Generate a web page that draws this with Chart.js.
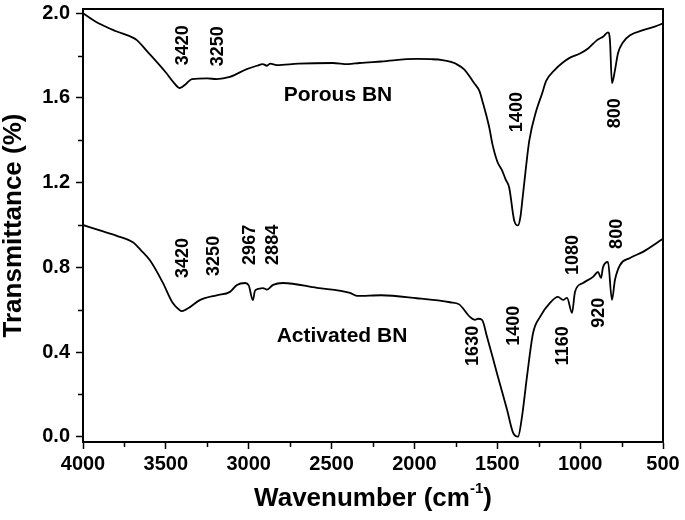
<!DOCTYPE html>
<html>
<head>
<meta charset="utf-8">
<script src="https://cdn.jsdelivr.net/npm/chart.js@4/dist/chart.umd.min.js"></script>
<style>
  html, body { margin: 0; padding: 0; background: #fff; }
  #wrap { width: 685px; height: 520px; }
</style>
</head>
<body>
<div id="wrap"><canvas id="ftir"></canvas></div>
<script>
// wavenumber (cm-1) / transmittance
const porousWn = [4000, 3900, 3800, 3700, 3675, 3614, 3500, 3450, 3416, 3380, 3343, 3250, 3193, 3114, 3012, 2950, 2916, 2890, 2870, 2831, 2700, 2494, 2400, 2331, 2200, 1988, 1900, 1831, 1780, 1747, 1700, 1669, 1640, 1608, 1590, 1548, 1530, 1500, 1470, 1450, 1428, 1398, 1375, 1360, 1349, 1330, 1307, 1265, 1230, 1205, 1150, 1108, 1066, 1001, 950, 898, 860, 832, 820, 808, 790, 772, 741, 699, 621, 550, 500];
const porousT = [2.00, 1.950, 1.915, 1.885, 1.873, 1.821, 1.72, 1.67, 1.647, 1.665, 1.689, 1.692, 1.689, 1.699, 1.736, 1.752, 1.760, 1.752, 1.762, 1.755, 1.762, 1.765, 1.760, 1.765, 1.772, 1.784, 1.783, 1.779, 1.770, 1.760, 1.735, 1.704, 1.67, 1.633, 1.586, 1.459, 1.384, 1.30, 1.256, 1.215, 1.176, 1.021, 0.998, 1.04, 1.115, 1.25, 1.398, 1.539, 1.62, 1.680, 1.735, 1.765, 1.788, 1.81, 1.835, 1.873, 1.89, 1.91, 1.87, 1.67, 1.73, 1.81, 1.863, 1.896, 1.92, 1.937, 1.952];

const activatedWn = [4000, 3898, 3800, 3699, 3650, 3596, 3520, 3458, 3420, 3404, 3380, 3355, 3295, 3193, 3113, 3071, 3022, 3000, 2975, 2962, 2944, 2914, 2890, 2853, 2793, 2588, 2389, 2347, 2200, 1985, 1785, 1730, 1665, 1634, 1616, 1592, 1562, 1502, 1441, 1405, 1375, 1351, 1321, 1284, 1242, 1182, 1134, 1103, 1079, 1049, 1031, 983, 922, 892, 874, 862, 832, 808, 790, 759, 699, 621, 500];
const activatedT = [1.00, 0.974, 0.95, 0.918, 0.88, 0.833, 0.73, 0.631, 0.60, 0.593, 0.60, 0.612, 0.645, 0.668, 0.684, 0.717, 0.726, 0.715, 0.645, 0.69, 0.698, 0.702, 0.695, 0.717, 0.726, 0.703, 0.679, 0.665, 0.668, 0.654, 0.635, 0.625, 0.566, 0.552, 0.557, 0.552, 0.472, 0.30, 0.127, 0.019, 0.0, 0.094, 0.283, 0.49, 0.566, 0.632, 0.66, 0.646, 0.656, 0.585, 0.684, 0.726, 0.755, 0.778, 0.75, 0.80, 0.825, 0.646, 0.74, 0.811, 0.844, 0.873, 0.935];

const xTickValues = [4000, 3750, 3500, 3250, 3000, 2750, 2500, 2250, 2000, 1750, 1500, 1250, 1000, 750, 500];
const yTickValues = [0, 0.2, 0.4, 0.6, 0.8, 1.0, 1.2, 1.4, 1.6, 1.8, 2.0];

// peak labels: [text, wavenumber, transmittance at label centre]
const peakLabels = [
  ["3420", 3403, 1.849], ["3250", 3191, 1.844], ["1400", 1387, 1.533], ["800", 796, 1.528],
  ["3420", 3403, 0.844], ["3250", 3216, 0.854], ["2967", 2998, 0.906], ["2884", 2859, 0.906],
  ["1630", 1653, 0.429], ["1400", 1405, 0.524], ["1160", 1109, 0.429], ["1080", 1049, 0.858],
  ["920", 892, 0.585], ["800", 784, 0.958]
];
const sampleNames = [["Porous BN", 2461, 1.613], ["Activated BN", 2437, 0.476]];

const FONT = "'Liberation Sans', Arial, Helvetica, sans-serif";

const toPoints = (xs, ys) => xs.map((x, i) => ({ x: x, y: ys[i] }));
const isMajorX = (v) => v % 500 === 0;
const isMajorY = (v) => Math.round(v * 10) % 4 === 0;

const decor = {
  id: "decor",
  afterDatasetsDraw(chart) {
    const { ctx, chartArea: a, scales } = chart;
    ctx.save();
    ctx.strokeStyle = "#000";
    // frame top/right
    ctx.lineWidth = 2;
    ctx.beginPath();
    ctx.moveTo(a.left, a.top);
    ctx.lineTo(a.right, a.top);
    ctx.lineTo(a.right, a.bottom);
    ctx.stroke();

    // short minor ticks
    ctx.lineWidth = 1.5;
    ctx.beginPath();
    xTickValues.filter((v) => !isMajorX(v)).forEach((v) => {
      const px = Math.round(scales.x.getPixelForValue(v)) + 0.5;
      ctx.moveTo(px, a.bottom);
      ctx.lineTo(px, a.bottom + 5);
    });
    yTickValues.filter((v) => !isMajorY(v)).forEach((v) => {
      const py = Math.round(scales.y.getPixelForValue(v)) + 0.5;
      ctx.moveTo(a.left, py);
      ctx.lineTo(a.left - 5, py);
    });
    ctx.stroke();

    ctx.fillStyle = "#000";
    ctx.textAlign = "center";
    ctx.textBaseline = "middle";
    ctx.font = "bold 18px " + FONT;
    peakLabels.forEach(([t, wn, v]) => {
      const px = scales.x.getPixelForValue(wn);
      const py = scales.y.getPixelForValue(v);
      ctx.save();
      ctx.translate(px, py);
      ctx.rotate(-Math.PI / 2);
      ctx.fillText(t, 0, 1);
      ctx.restore();
    });
    ctx.font = "bold 21px " + FONT;
    sampleNames.forEach(([t, wn, v]) => {
      ctx.fillText(t, scales.x.getPixelForValue(wn), scales.y.getPixelForValue(v));
    });

    // axis titles
    ctx.font = "bold 26px " + FONT;
    ctx.save();
    ctx.translate(14, (a.top + a.bottom) / 2);
    ctx.rotate(-Math.PI / 2);
    ctx.fillText("Transmittance (%)", 0, 0);
    ctx.restore();

    const main = "Wavenumber (cm";
    const sup = "-1";
    const tail = ")";
    ctx.font = "bold 26px " + FONT;
    const wMain = ctx.measureText(main).width;
    const wTail = ctx.measureText(tail).width;
    ctx.font = "bold 15px " + FONT;
    const wSup = ctx.measureText(sup).width;
    const x0 = (a.left + a.right) / 2 - (wMain + wSup + wTail) / 2;
    const yT = 499;
    ctx.textAlign = "left";
    ctx.font = "bold 26px " + FONT;
    ctx.fillText(main, x0, yT);
    ctx.font = "bold 15px " + FONT;
    ctx.fillText(sup, x0 + wMain, yT - 10);
    ctx.font = "bold 26px " + FONT;
    ctx.fillText(tail, x0 + wMain + wSup, yT);
    ctx.restore();
  }
};

new Chart(document.getElementById("ftir").getContext("2d"), {
  type: "line",
  data: {
    datasets: [
      {
        label: "Porous BN",
        data: toPoints(porousWn, porousT),
        borderColor: "#000",
        borderWidth: 1.8,
        pointRadius: 0,
        cubicInterpolationMode: "monotone",
        fill: false
      },
      {
        label: "Activated BN",
        data: toPoints(activatedWn, activatedT),
        borderColor: "#000",
        borderWidth: 1.8,
        pointRadius: 0,
        cubicInterpolationMode: "monotone",
        fill: false
      }
    ]
  },
  options: {
    responsive: true,
    maintainAspectRatio: false,
    animation: false,
    layout: { padding: { top: 9, right: 22, left: 0, bottom: 0 } },
    plugins: { legend: { display: false }, tooltip: { enabled: false } },
    scales: {
      x: {
        type: "linear",
        reverse: true,
        min: 500,
        max: 4000,
        afterBuildTicks: (s) => { s.ticks = xTickValues.map((v) => ({ value: v })); },
        afterFit: (s) => { s.height = 78; s.paddingLeft = 0; s.paddingRight = 0; },
        border: { color: "#000", width: 2 },
        grid: {
          drawOnChartArea: false,
          tickLength: 7,
          tickWidth: 1.5,
          tickColor: (c) => (c.tick && isMajorX(c.tick.value) ? "#000" : "rgba(0,0,0,0)")
        },
        ticks: {
          color: "#000",
          padding: 3,
          maxRotation: 0,
          autoSkip: false,
          font: { family: FONT, size: 20, weight: "bold" },
          callback: (v) => (isMajorX(v) ? String(v) : "")
        }
      },
      y: {
        min: -0.025,
        max: 2.02,
        afterBuildTicks: (s) => { s.ticks = yTickValues.map((v) => ({ value: v })); },
        afterFit: (s) => { s.width = 83; s.paddingTop = 0; s.paddingBottom = 0; },
        border: { color: "#000", width: 2 },
        grid: {
          drawOnChartArea: false,
          tickLength: 7,
          tickWidth: 1.5,
          tickColor: (c) => (c.tick && isMajorY(c.tick.value) ? "#000" : "rgba(0,0,0,0)")
        },
        ticks: {
          color: "#000",
          padding: 6,
          autoSkip: false,
          font: { family: FONT, size: 20, weight: "bold" },
          callback: (v) => (isMajorY(v) ? v.toFixed(1) : "")
        }
      }
    }
  },
  plugins: [decor]
});
</script>
</body>
</html>
